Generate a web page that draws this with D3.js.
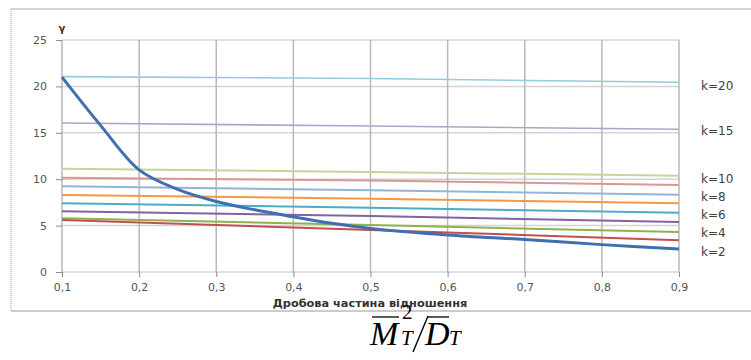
<!DOCTYPE html>
<html>
<head>
<meta charset="utf-8">
<script src="https://cdn.jsdelivr.net/npm/d3@7"></script>
<style>
	body { margin: 0; background: #fff; }
	svg { display: block; }
	.tick text { font-family: "DejaVu Sans", sans-serif; font-size: 11px; fill: #555; }
</style>
</head>
<body>
<svg id="chart" width="751" height="360"></svg>
<script>
// straight k-lines are read at three points
const lineX = [0.1, 0.5, 0.9];
const kLines = [
	{ color: "#93cddd", width: 1.6, values: [21.05, 20.85, 20.44] },
	{ color: "#b3a2c7", width: 1.6, values: [16.06, 15.73, 15.38] },
	{ color: "#c3d69b", width: 2, values: [11.13, 10.78, 10.38] },
	{ color: "#d99795", width: 2, values: [10.15, 9.85, 9.38] },
	{ color: "#95b3d7", width: 2, values: [9.25, 8.8, 8.33] },
	{ color: "#f79646", width: 2, values: [8.3, 7.9, 7.4] },
	{ color: "#4bacc6", width: 2, values: [7.4, 6.93, 6.39] },
	{ color: "#8064a2", width: 2, values: [6.54, 6.03, 5.38] },
	{ color: "#8db24e", width: 2, values: [5.79, 5.06, 4.31] },
	{ color: "#c0504d", width: 2, values: [5.6, 4.53, 3.42] }
];

// the thick blue curve
const curveX = [0.1, 0.15, 0.2, 0.25, 0.3, 0.35, 0.4, 0.45, 0.5, 0.6, 0.7, 0.8, 0.9];
const curveY = [21.0, 15.8, 11.0, 8.9, 7.6, 6.7, 5.95, 5.25, 4.7, 4.0, 3.5, 2.95, 2.48];

const xTicks = [0.1, 0.2, 0.3, 0.4, 0.5, 0.6, 0.7, 0.8, 0.9];
const yTicks = [0, 5, 10, 15, 20, 25];

const kLabels = ["k=20", "k=15", "k=10", "k=8", "k=6", "k=4", "k=2"];
const kLabelY = [20.07, 15.23, 9.99, 8.11, 6.11, 4.2, 2.19];

const svg = d3.select("#chart");

const x = d3.scaleLinear().domain([0.1, 0.9]).range([62, 679]);
const y = d3.scaleLinear().domain([0, 25]).range([272, 40]);

// chart frame
svg.append("line").attr("x1", 11).attr("x2", 751).attr("y1", 9).attr("y2", 9)
	.attr("stroke", "#a8a8a8").attr("stroke-width", 1.2);
svg.append("line").attr("x1", 11).attr("x2", 11).attr("y1", 9).attr("y2", 311)
	.attr("stroke", "#a0a0a0").attr("stroke-dasharray", "1,1");
svg.append("line").attr("x1", 11).attr("x2", 751).attr("y1", 311).attr("y2", 311)
	.attr("stroke", "#9a9a9a").attr("stroke-width", 1.2);

// grid
svg.append("g").selectAll("line")
	.data(yTicks)
	.enter()
	.append("line")
	.attr("x1", x(0.1)).attr("x2", x(0.9))
	.attr("y1", d => y(d)).attr("y2", d => y(d))
	.attr("stroke", "#d4d4d4").attr("stroke-width", 1.5);

svg.append("g").selectAll("line")
	.data(xTicks)
	.enter()
	.append("line")
	.attr("x1", d => x(d)).attr("x2", d => x(d))
	.attr("y1", y(0)).attr("y2", y(25))
	.attr("stroke", "#b8b8b8").attr("stroke-width", 1.5);

// axes
const xAxis = d3.axisBottom(x)
	.tickValues(xTicks)
	.tickSize(5)
	.tickPadding(6)
	.tickFormat(d => d.toFixed(1).replace(".", ","));
const gx = svg.append("g").attr("transform", `translate(0,${y(0)})`).call(xAxis);
gx.selectAll("line").attr("stroke", "#8a8a8a");
gx.select(".domain").remove();

const yAxis = d3.axisLeft(y)
	.tickValues(yTicks)
	.tickSize(6)
	.tickPadding(9);
const gy = svg.append("g").attr("transform", `translate(${x(0.1)},0)`).call(yAxis);
gy.selectAll("line").attr("stroke", "#8a8a8a");
gy.select(".domain").remove();

// series
const line = d3.line()
	.x(d => x(d[0]))
	.y(d => y(d[1]));

svg.append("g").selectAll("path")
	.data(kLines)
	.enter()
	.append("path")
	.attr("d", d => line(d.values.map((v, i) => [lineX[i], v])))
	.attr("fill", "none")
	.attr("stroke", d => d.color)
	.attr("stroke-width", d => d.width);

svg.append("path")
	.attr("d", line.curve(d3.curveCatmullRom)(curveY.map((v, i) => [curveX[i], v])))
	.attr("fill", "none")
	.attr("stroke", "#3f6fb0")
	.attr("stroke-width", 3);

// right labels
svg.append("g").selectAll("text")
	.data(kLabels)
	.enter()
	.append("text")
	.attr("x", 701)
	.attr("y", (d, i) => y(kLabelY[i]))
	.attr("dy", "0.35em")
	.style("font-family", "DejaVu Sans, sans-serif")
	.style("font-size", "12px")
	.style("fill", "#404040")
	.text(d => d);

// axis titles
svg.append("text")
	.attr("x", 62).attr("y", 32)
	.attr("text-anchor", "middle")
	.style("font-family", "DejaVu Sans, sans-serif")
	.style("font-size", "10px")
	.style("font-weight", "bold")
	.style("fill", "#333")
	.text("γ");

svg.append("text")
	.attr("x", 370).attr("y", 307)
	.attr("text-anchor", "middle")
	.style("font-family", "DejaVu Sans, sans-serif")
	.style("font-size", "11.3px")
	.style("font-weight", "bold")
	.style("fill", "#333")
	.text("Дробова частина відношення");

// formula under the chart, placed glyph by glyph
const f = svg.append("g")
	.style("font-family", "Liberation Serif, serif")
	.style("fill", "#000");

function glyph(txt, px, py, size, italic) {
	return f.append("text")
		.attr("x", px).attr("y", py)
		.style("font-size", size + "px")
		.style("font-style", italic ? "italic" : "normal")
		.text(txt);
}

const base = 345;
const m = glyph("M", 370, base, 34, true);
const mBox = m.node().getBBox();
const afterM = mBox.x + mBox.width + 1;
glyph("2", afterM + 1, 319, 21, false);
const t1 = glyph("T", afterM, base, 21, true);
const t1Box = t1.node().getBBox();
const t1End = t1Box.x + t1Box.width;
const dg = glyph("D", t1End + 11, base, 34, true);
const dBox = dg.node().getBBox();
glyph("T", dBox.x + dBox.width - 1, base, 21, true);

// slash and bars
f.append("line").attr("x1", t1End + 14).attr("y1", 316).attr("x2", t1End - 1).attr("y2", 352)
	.attr("stroke", "#000").attr("stroke-width", 1.4);
f.append("line").attr("x1", mBox.x + 3).attr("x2", mBox.x + mBox.width - 1).attr("y1", 317).attr("y2", 317)
	.attr("stroke", "#000").attr("stroke-width", 1.3);
f.append("line").attr("x1", dBox.x + 3).attr("x2", dBox.x + dBox.width - 1).attr("y1", 317).attr("y2", 317)
	.attr("stroke", "#000").attr("stroke-width", 1.3);
</script>
</body>
</html>
